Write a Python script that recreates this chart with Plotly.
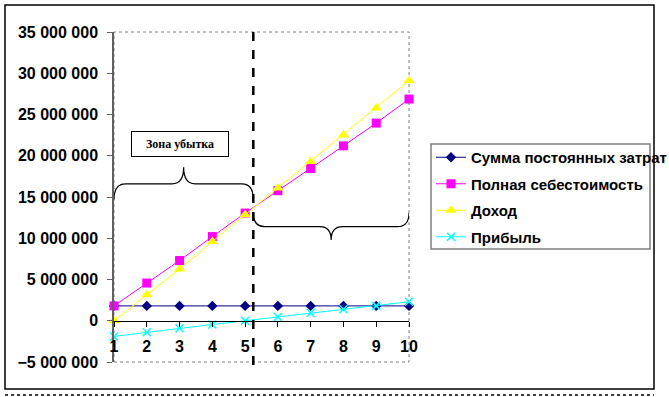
import plotly.graph_objects as go

# ---- data ----
periods = [1, 2, 3, 4, 5, 6, 7, 8, 9, 10]
fixed_costs = [1800000, 1800000, 1800000, 1800000, 1800000, 1800000, 1800000, 1800000, 1800000, 1800000]
full_cost = [1800000, 4570000, 7300000, 10200000, 13050000, 15760000, 18450000, 21200000, 23960000, 26870000]
revenue = [0, 3150000, 6260000, 9600000, 12850000, 16080000, 19300000, 22500000, 25800000, 29100000]
profit = [-1900000, -1400000, -900000, -450000, 0, 450000, 930000, 1400000, 1800000, 2300000]
series_names = ["Сумма постоянных затрат", "Полная себестоимость", "Доход", "Прибыль"]
break_even_x = 5.25
y_ticks = [-5000000, 0, 5000000, 10000000, 15000000, 20000000, 25000000, 30000000, 35000000]
zone_label = "Зона убытка"

W, H = 669, 397
L, R, T, B = 114, 260, 32, 35
PW, PH = W - L - R, H - T - B


def px(x):
    return (x - L) / PW


def py(y):
    return (H - B - y) / PH


FONT = "Arial, Liberation Sans, sans-serif"

fig = go.Figure()
styles = [
    dict(color="#000080", symbol="diamond", size=8),
    dict(color="#FF00FF", symbol="square", size=9),
    dict(color="#FFFF00", symbol="triangle-up", size=10),
    dict(color="#00FFFF", symbol="x-thin-open", size=8),
]
for i, (name, vals) in enumerate(zip(series_names, [fixed_costs, full_cost, revenue, profit])):
    st = styles[i]
    marker = dict(symbol=st["symbol"], size=st["size"], color=st["color"])
    if st["symbol"].endswith("open"):
        marker["line"] = dict(color=st["color"], width=1.5)
    else:
        marker["line"] = dict(width=0)
    fig.add_trace(go.Scatter(
        x=periods, y=vals, name=name, mode="lines+markers",
        line=dict(color=st["color"], width=1), marker=marker,
        cliponaxis=False, legendgroup=f"g{i}",
    ))


def brace(x0, x1, y_end, y_mid, y_tip, r):
    xc = (x0 + x1) / 2
    return (f"M {x0},{y_end} Q {x0},{y_mid} {x0 + r},{y_mid} L {xc - r},{y_mid} "
            f"Q {xc},{y_mid} {xc},{y_tip} Q {xc},{y_mid} {xc + r},{y_mid} "
            f"L {x1 - r},{y_mid} Q {x1},{y_mid} {x1},{y_end}")


shapes = [
    # plot area border (dotted gray)
    dict(type="rect", xref="paper", yref="paper", x0=0, x1=1, y0=0, y1=1,
         line=dict(color="#808080", width=1, dash="dot"), layer="below"),
    # outer chart border
    dict(type="rect", xref="paper", yref="paper", x0=px(5), x1=px(654), y0=py(389), y1=py(5),
         line=dict(color="#000000", width=1.5)),
    dict(type="line", xref="paper", yref="paper", x0=px(5), x1=px(654), y0=py(395), y1=py(395),
         line=dict(color="#000000", width=1.5, dash="dot")),
    # legend frame (text overflows it on the right, as in the original)
    dict(type="rect", xref="paper", yref="paper", x0=px(431), x1=px(650), y0=py(249), y1=py(144),
         line=dict(color="#808080", width=1.5)),
    # break-even dashed line
    dict(type="line", xref="x", yref="paper", x0=break_even_x, x1=break_even_x,
         y0=py(365), y1=py(24), line=dict(color="#000000", width=2.5, dash="dash")),
    # braces
    dict(type="path", xref="x", yref="y",
         path=brace(1, break_even_x, 14700000, 16600000, 18600000, 0.35),
         line=dict(color="#000000", width=1.2)),
    dict(type="path", xref="x", yref="y",
         path=brace(break_even_x, 10, 13100000, 11400000, 9800000, 0.35),
         line=dict(color="#000000", width=1.2)),
]

fig.update_layout(
    width=W, height=H,
    margin=dict(l=L, r=R, t=T, b=B, pad=0, autoexpand=False),
    paper_bgcolor="white", plot_bgcolor="white",
    separators=", ",
    showlegend=True,
    legend=dict(
        x=px(431), y=py(141), xanchor="left", yanchor="top",
        borderwidth=0, bgcolor="rgba(0,0,0,0)",
        font=dict(family=FONT, size=15, color="black", weight="bold"),
        tracegroupgap=4, itemwidth=30,
    ),
    shapes=shapes,
    annotations=[dict(
        x=3.0, y=21450000, xref="x", yref="y", text=zone_label, showarrow=False,
        font=dict(family="Times New Roman, Liberation Serif, serif", size=12, color="black", weight="bold"),
        bordercolor="black", borderwidth=1, width=94, height=22, bgcolor="white",
    )],
    xaxis=dict(
        range=[1, 10], tickvals=periods, ticktext=[str(p) for p in periods],
        anchor="free", position=0.125, showline=True, linecolor="#000000", linewidth=1,
        ticks="outside", ticklen=5, tickcolor="#000000", showgrid=False, zeroline=False,
        tickfont=dict(family=FONT, size=16, color="black", weight="bold"),
        ticklabelstandoff=6,
    ),
    yaxis=dict(
        range=[-5000000, 35000000], tickvals=y_ticks, tickformat=",d",
        showline=True, linecolor="#606060", linewidth=1.5,
        ticks="outside", ticklen=5, tickcolor="#606060", showgrid=False, zeroline=False,
        tickfont=dict(family=FONT, size=16, color="black", weight="bold"),
        ticklabelstandoff=6,
    ),
)

fig.write_html(
    "out.html",
    config={"displayModeBar": False},
    post_script="document.body.style.margin='0';document.body.style.overflow='hidden';",
)
